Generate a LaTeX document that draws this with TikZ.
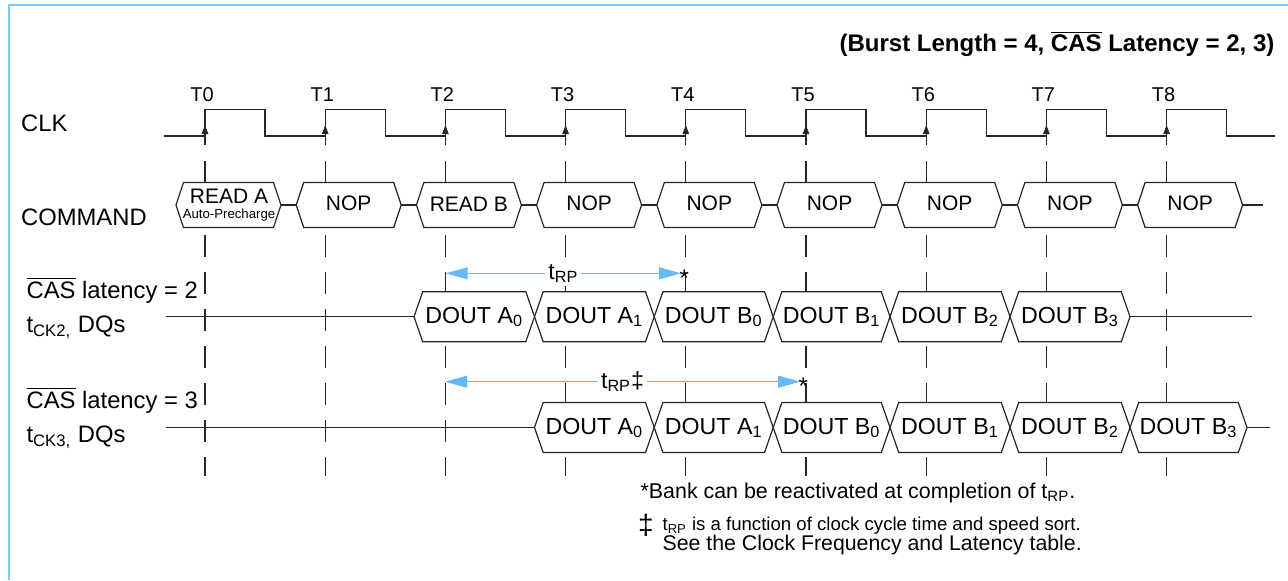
\documentclass[tikz,border=0pt]{standalone}
\usepackage{fontspec}
\setmainfont{Liberation Sans}
\usepackage{xcolor}
\usetikzlibrary{arrows.meta}

\definecolor{framecol}{HTML}{80C8FA}
\definecolor{trpcol}{HTML}{66BBF7}

% hexagon bus box: left tip, right tip, centre y, half height, slant
\newcommand{\hexbox}[5]{%
  \draw[fill=white] ({#1},{#3}) -- ({#1+#5},{#3-#4}) -- ({#2-#5},{#3-#4}) -- ({#2},{#3})
    -- ({#2-#5},{#3+#4}) -- ({#1+#5},{#3+#4}) -- cycle;}

\begin{document}
\begin{tikzpicture}[x=0.5pt, y=-0.5pt, line width=0.6pt, draw=black!85,
    lbl/.style={font=\fontsize{11.9}{14}\selectfont, anchor=base west, inner sep=0},
    cmd/.style={font=\fontsize{10.5}{12}\selectfont, anchor=base, inner sep=0},
    dout/.style={font=\fontsize{11.6}{14}\selectfont, anchor=base, inner sep=0},
    trp/.style={trpcol, line width=0.5pt, {Triangle[length=11pt,width=6pt]}-{Triangle[length=11pt,width=6pt]}},
    trplbl/.style={fill=white, text=black, font=\fontsize{11.6}{14}\selectfont, inner sep=1.5pt}]
    \useasboundingbox (0,0) rectangle (1288,580);
    \draw[framecol, line width=1pt] (9,580) -- (9,4.5) -- (1288,4.5);

    % title
    \node[font=\bfseries\fontsize{12}{14}\selectfont, anchor=base east, inner sep=0] (title) at (1275,51.7)
        {(Burst Length = 4, $\overline{\mbox{CAS}}$ Latency = 2, 3)};

    % signal names
    \node[lbl] (clk) at (20.5,131.7) {CLK};
    \node[lbl] (command) at (20.5,225) {COMMAND};
    \node[lbl] (cas2) at (26,298.3) {$\overline{\mbox{CAS}}$ latency = 2};
    \node[lbl] (dq2) at (26,332.7) {t\textsubscript{CK2,} DQs};
    \node[lbl] (cas3) at (26,408.3) {$\overline{\mbox{CAS}}$ latency = 3};
    \node[lbl] (dq3) at (26,442.7) {t\textsubscript{CK3,} DQs};

    % clock edges and guide lines
    \foreach \i in {0,...,8} {
        \node[font=\fontsize{10}{12}\selectfont, anchor=base, inner sep=0] (tl\i) at ({202+120.2*\i},101.7) {T\i};
        \draw[-{Triangle[length=4.5pt,width=3.2pt]}] ({205+120.2*\i},145) -- ({205+120.2*\i},125);
        \draw[dash pattern=on 11pt off 7.5pt] ({205+120.2*\i},161) -- ({205+120.2*\i},476);
    }
    \draw (164,136) \foreach \i in {0,...,8} { -- ({205+120.2*\i},136) -- ++(0,-26.5) -- ++(60,0) -- ++(0,26.5) } -- (1275,136);

    % command bus
    \draw (180,205) -- (1263,205);
    \foreach \i in {0,...,8}
        \hexbox{176+120.2*\i}{281+120.2*\i}{205}{22.5}{7.5};
    \node[cmd] (rda) at (229,203.3) {READ A};
    \node[font=\fontsize{6.6}{8}\selectfont, anchor=base, inner sep=0] (autopre) at (229,218) {Auto-Precharge};
    \node[cmd] (rdb) at (468.9,211.7) {READ B};
    \foreach \i in {1,3,4,5,6,7,8}
        \node[cmd] (nop\i) at ({228.5+120.2*\i},210) {NOP};

    % data, CAS latency 2
    \draw (166,316.7) -- (1252,316.7);
    \foreach \a/\b/\l/\s [count=\k] in {414/534.5/A/0, 534.5/654.2/A/1, 654.2/773.2/B/0,
        773.2/890/B/1, 890/1010/B/2, 1010/1130/B/3} {
        \hexbox{\a}{\b}{316.7}{25}{8.7}
        \node[dout] (dqa\k) at ({(\a+\b)/2},323) {DOUT \l\textsubscript{\s}};
    }

    % data, CAS latency 3
    \draw (166,427.5) -- (1270,427.5);
    \foreach \a/\b/\l/\s [count=\k] in {534.5/654.2/A/0, 654.2/773.2/A/1, 773.2/890/B/0,
        890/1010/B/1, 1010/1130/B/2, 1130/1247/B/3} {
        \hexbox{\a}{\b}{427.5}{25}{8.7}
        \node[dout] (dqb\k) at ({(\a+\b)/2},434) {DOUT \l\textsubscript{\s}};
    }

    % tRP arrows
    \coordinate (rp2a) at (445.7,273.3);
    \coordinate (rp2b) at (681,273.3);
    \draw[trp] (rp2a) -- node[trplbl] (trp2) {t\textsubscript{RP}} (rp2b);
    \node[font=\fontsize{12}{14}\selectfont, anchor=base west, inner sep=0] (star2) at (679,286) {*};
    \coordinate (rp3a) at (445,381.7);
    \coordinate (rp3b) at (800,381.7);
    \draw[trp] (rp3a) -- node[trplbl] (trp3) {t\textsubscript{RP}‡} (rp3b);
    \node[font=\fontsize{12}{14}\selectfont, anchor=base west, inner sep=0] (star3) at (798,394) {*};

    % notes
    \node[font=\fontsize{10.7}{13}\selectfont, anchor=base west, inner sep=0] (note1) at (640,498)
        {*Bank can be reactivated at completion of t\textsubscript{RP}.};
    \node[font=\fontsize{14}{16}\selectfont, inner sep=0] (dag) at (646,525) {‡};
    \node[font=\fontsize{9.3}{11}\selectfont, anchor=base west, inner sep=0] (note2) at (662,530.7)
        {t\textsubscript{RP} is a function of clock cycle time and speed sort.};
    \node[font=\fontsize{10.65}{13}\selectfont, anchor=base west, inner sep=0] (note3) at (662,550)
        {See the Clock Frequency and Latency table.};
\end{tikzpicture}
\end{document}
